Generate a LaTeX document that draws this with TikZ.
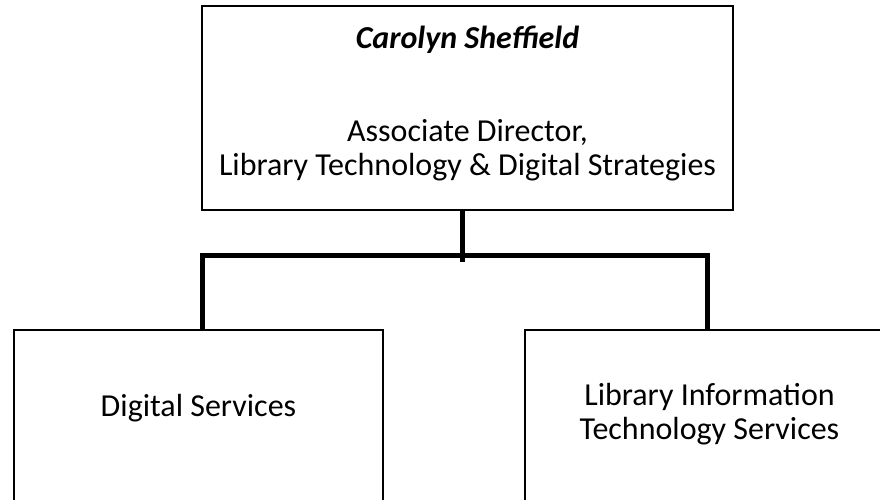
\documentclass[tikz,border=0pt]{standalone}
\usepackage{fontspec}
\setmainfont{Carlito}
\begin{document}
\begin{tikzpicture}[x=1pt,y=1pt,
  box/.style={draw=black,line width=1.5pt,fill=white,inner sep=0pt,rectangle},
  conn/.style={draw=black,line width=5pt,line join=miter},
  lbl/.style={inner sep=0pt,anchor=base,font=\fontsize{32}{34}\selectfont}]
\useasboundingbox (0,0) rectangle (880,500);
\clip (0,0) rectangle (880,500);
\fill[white] (0,0) rectangle (880,500);
% boxes
\node[box,minimum width=531pt,minimum height=204pt] (top) at (467.5,392) {};
\node[box,minimum width=369pt,minimum height=190pt] (ds) at (198.5,75) {};
\node[box,minimum width=369pt,minimum height=190pt] (lits) at (709.5,75) {};
% connector points
\coordinate (stem) at (462,244);
\coordinate (stemend) at (462,238);
\coordinate (ldrop) at (202,244);
\coordinate (rdrop) at (707,244);
\draw[conn] (top.south -| stem) -- (stemend);
\draw[conn] (ds.north -| ldrop) |- (stem) -| (lits.north -| rdrop);
% labels
\node[lbl] (name) at (467.5,451) {\textbf{\textit{Carolyn Sheffield}}};
\node[lbl] (role1) at (467.5,358) {Associate Director,};
\node[lbl] (role2) at (467.5,324) {Library Technology \& Digital Strategies};
\node[lbl] (dslbl) at (198.5,83) {Digital Services};
\node[lbl] (lits1) at (709.5,94) {Library Information};
\node[lbl] (lits2) at (709.5,60) {Technology Services};
\end{tikzpicture}
\end{document}
